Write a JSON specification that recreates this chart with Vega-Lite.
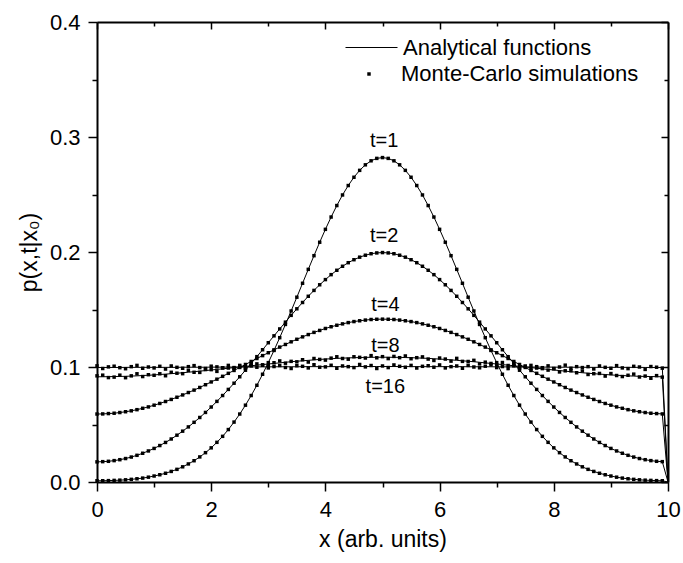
{
  "$schema": "https://vega.github.io/schema/vega-lite/v6.json",
  "width": 571,
  "height": 460,
  "autosize": "none",
  "padding": {"left": 97, "top": 22, "right": 15, "bottom": 81},
  "background": "white",
  "config": {
    "view": {"stroke": null},
    "font": "Liberation Sans",
    "axis": {"domainColor": "black", "domainWidth": 2, "tickColor": "black", "tickWidth": 1.5, "grid": false, "labelFont": "Liberation Sans", "labelFontSize": 22, "labelColor": "black", "titleFont": "Liberation Sans", "titleFontSize": 23, "titleFontWeight": "normal", "titleColor": "black", "labelOverlap": false, "labelFlush": false, "labelBound": false},
    "legend": {"labelFont": "Liberation Sans", "labelFontSize": 22, "labelColor": "black", "padding": 0, "offset": 0, "labelLimit": 500}
  },
  "datasets": {
    "d": [
      {"x":0,"a1":0.0011,"a2":0.0175,"a4":0.0591,"a8":0.0915,"a16":0.0996,"m8":0.0923,"m16":0.1010},
      {"x":0.1,"a1":0.0011,"a2":0.0177,"a4":0.0592,"a8":0.0915,"a16":0.0996,"m8":0.0929,"m16":0.0987},
      {"x":0.2,"a1":0.0012,"a2":0.0180,"a4":0.0595,"a8":0.0916,"a16":0.0996,"m8":0.0908,"m16":0.1001},
      {"x":0.3,"a1":0.0014,"a2":0.0186,"a4":0.0598,"a8":0.0917,"a16":0.0996,"m8":0.0912,"m16":0.1007},
      {"x":0.4,"a1":0.0016,"a2":0.0194,"a4":0.0604,"a8":0.0918,"a16":0.0996,"m8":0.0929,"m16":0.0994},
      {"x":0.5,"a1":0.0019,"a2":0.0204,"a4":0.0611,"a8":0.0919,"a16":0.0997,"m8":0.0907,"m16":0.0985},
      {"x":0.6,"a1":0.0023,"a2":0.0217,"a4":0.0619,"a8":0.0921,"a16":0.0997,"m8":0.0923,"m16":0.1003},
      {"x":0.7,"a1":0.0028,"a2":0.0232,"a4":0.0629,"a8":0.0923,"a16":0.0997,"m8":0.0941,"m16":0.1014},
      {"x":0.8,"a1":0.0034,"a2":0.0250,"a4":0.0641,"a8":0.0926,"a16":0.0997,"m8":0.0917,"m16":0.0989},
      {"x":0.9,"a1":0.0042,"a2":0.0270,"a4":0.0653,"a8":0.0928,"a16":0.0997,"m8":0.0933,"m16":0.1000},
      {"x":1.0,"a1":0.0052,"a2":0.0292,"a4":0.0668,"a8":0.0931,"a16":0.0997,"m8":0.0928,"m16":0.0992},
      {"x":1.1,"a1":0.0063,"a2":0.0317,"a4":0.0683,"a8":0.0935,"a16":0.0997,"m8":0.0941,"m16":0.1006},
      {"x":1.2,"a1":0.0076,"a2":0.0344,"a4":0.0700,"a8":0.0938,"a16":0.0997,"m8":0.0924,"m16":0.0982},
      {"x":1.3,"a1":0.0092,"a2":0.0374,"a4":0.0718,"a8":0.0942,"a16":0.0997,"m8":0.0954,"m16":0.1009},
      {"x":1.4,"a1":0.0110,"a2":0.0407,"a4":0.0737,"a8":0.0946,"a16":0.0997,"m8":0.0946,"m16":0.0997},
      {"x":1.5,"a1":0.0132,"a2":0.0442,"a4":0.0757,"a8":0.0950,"a16":0.0998,"m8":0.0942,"m16":0.0989},
      {"x":1.6,"a1":0.0157,"a2":0.0479,"a4":0.0778,"a8":0.0955,"a16":0.0998,"m8":0.0970,"m16":0.1003},
      {"x":1.7,"a1":0.0185,"a2":0.0519,"a4":0.0799,"a8":0.0959,"a16":0.0998,"m8":0.0954,"m16":0.1012},
      {"x":1.8,"a1":0.0218,"a2":0.0561,"a4":0.0822,"a8":0.0964,"a16":0.0998,"m8":0.0953,"m16":0.0995},
      {"x":1.9,"a1":0.0255,"a2":0.0605,"a4":0.0846,"a8":0.0969,"a16":0.0998,"m8":0.0978,"m16":0.0987},
      {"x":2.0,"a1":0.0297,"a2":0.0652,"a4":0.0870,"a8":0.0974,"a16":0.0999,"m8":0.0977,"m16":0.1007},
      {"x":2.1,"a1":0.0345,"a2":0.0701,"a4":0.0894,"a8":0.0979,"a16":0.0999,"m8":0.0962,"m16":0.1001},
      {"x":2.2,"a1":0.0397,"a2":0.0752,"a4":0.0919,"a8":0.0984,"a16":0.0999,"m8":0.0992,"m16":0.0993},
      {"x":2.3,"a1":0.0456,"a2":0.0805,"a4":0.0945,"a8":0.0989,"a16":0.0999,"m8":0.0991,"m16":0.1014},
      {"x":2.4,"a1":0.0521,"a2":0.0859,"a4":0.0970,"a8":0.0995,"a16":0.1000,"m8":0.0989,"m16":0.0995},
      {"x":2.5,"a1":0.0591,"a2":0.0915,"a4":0.0996,"a8":0.1000,"a16":0.1000,"m8":0.1014,"m16":0.1005},
      {"x":2.6,"a1":0.0668,"a2":0.0972,"a4":0.1022,"a8":0.1005,"a16":0.1000,"m8":0.0996,"m16":0.0988},
      {"x":2.7,"a1":0.0752,"a2":0.1031,"a4":0.1048,"a8":0.1011,"a16":0.1001,"m8":0.1016,"m16":0.1009},
      {"x":2.8,"a1":0.0841,"a2":0.1090,"a4":0.1074,"a8":0.1016,"a16":0.1001,"m8":0.1027,"m16":0.0998},
      {"x":2.9,"a1":0.0937,"a2":0.1150,"a4":0.1099,"a8":0.1021,"a16":0.1001,"m8":0.1019,"m16":0.1015},
      {"x":3.0,"a1":0.1038,"a2":0.1211,"a4":0.1124,"a8":0.1026,"a16":0.1001,"m8":0.1014,"m16":0.0992},
      {"x":3.1,"a1":0.1144,"a2":0.1271,"a4":0.1149,"a8":0.1031,"a16":0.1002,"m8":0.1037,"m16":0.1004},
      {"x":3.2,"a1":0.1255,"a2":0.1331,"a4":0.1173,"a8":0.1036,"a16":0.1002,"m8":0.1053,"m16":0.1013},
      {"x":3.3,"a1":0.1370,"a2":0.1390,"a4":0.1196,"a8":0.1041,"a16":0.1002,"m8":0.1033,"m16":0.0996},
      {"x":3.4,"a1":0.1487,"a2":0.1449,"a4":0.1219,"a8":0.1046,"a16":0.1002,"m8":0.1049,"m16":0.0987},
      {"x":3.5,"a1":0.1607,"a2":0.1506,"a4":0.1241,"a8":0.1050,"a16":0.1002,"m8":0.1045,"m16":0.1011},
      {"x":3.6,"a1":0.1728,"a2":0.1561,"a4":0.1262,"a8":0.1054,"a16":0.1003,"m8":0.1063,"m16":0.1006},
      {"x":3.7,"a1":0.1849,"a2":0.1615,"a4":0.1282,"a8":0.1058,"a16":0.1003,"m8":0.1043,"m16":0.0992},
      {"x":3.8,"a1":0.1968,"a2":0.1666,"a4":0.1301,"a8":0.1062,"a16":0.1003,"m8":0.1074,"m16":0.1020},
      {"x":3.9,"a1":0.2085,"a2":0.1715,"a4":0.1318,"a8":0.1066,"a16":0.1003,"m8":0.1066,"m16":0.0998},
      {"x":4.0,"a1":0.2197,"a2":0.1760,"a4":0.1335,"a8":0.1069,"a16":0.1003,"m8":0.1060,"m16":0.1001},
      {"x":4.1,"a1":0.2304,"a2":0.1803,"a4":0.1350,"a8":0.1072,"a16":0.1003,"m8":0.1077,"m16":0.1015},
      {"x":4.2,"a1":0.2404,"a2":0.1841,"a4":0.1363,"a8":0.1075,"a16":0.1003,"m8":0.1089,"m16":0.0989},
      {"x":4.3,"a1":0.2496,"a2":0.1876,"a4":0.1375,"a8":0.1077,"a16":0.1003,"m8":0.1074,"m16":0.1009},
      {"x":4.4,"a1":0.2578,"a2":0.1907,"a4":0.1386,"a8":0.1079,"a16":0.1003,"m8":0.1068,"m16":0.1003},
      {"x":4.5,"a1":0.2650,"a2":0.1933,"a4":0.1395,"a8":0.1081,"a16":0.1003,"m8":0.1089,"m16":0.0995},
      {"x":4.6,"a1":0.2710,"a2":0.1955,"a4":0.1402,"a8":0.1082,"a16":0.1004,"m8":0.1084,"m16":0.1022},
      {"x":4.7,"a1":0.2758,"a2":0.1972,"a4":0.1408,"a8":0.1084,"a16":0.1004,"m8":0.1078,"m16":0.1001},
      {"x":4.8,"a1":0.2793,"a2":0.1985,"a4":0.1413,"a8":0.1084,"a16":0.1004,"m8":0.1099,"m16":0.1013},
      {"x":4.9,"a1":0.2814,"a2":0.1992,"a4":0.1415,"a8":0.1085,"a16":0.1004,"m8":0.1080,"m16":0.0987},
      {"x":5.0,"a1":0.2821,"a2":0.1995,"a4":0.1416,"a8":0.1085,"a16":0.1004,"m8":0.1090,"m16":0.1009},
      {"x":5.1,"a1":0.2814,"a2":0.1992,"a4":0.1415,"a8":0.1085,"a16":0.1004,"m8":0.1073,"m16":0.0995},
      {"x":5.2,"a1":0.2793,"a2":0.1985,"a4":0.1413,"a8":0.1084,"a16":0.1004,"m8":0.1092,"m16":0.1018},
      {"x":5.3,"a1":0.2758,"a2":0.1972,"a4":0.1408,"a8":0.1084,"a16":0.1004,"m8":0.1081,"m16":0.1006},
      {"x":5.4,"a1":0.2710,"a2":0.1955,"a4":0.1402,"a8":0.1082,"a16":0.1004,"m8":0.1096,"m16":0.0998},
      {"x":5.5,"a1":0.2650,"a2":0.1933,"a4":0.1395,"a8":0.1081,"a16":0.1003,"m8":0.1072,"m16":0.1014},
      {"x":5.6,"a1":0.2578,"a2":0.1907,"a4":0.1386,"a8":0.1079,"a16":0.1003,"m8":0.1081,"m16":0.0991},
      {"x":5.7,"a1":0.2496,"a2":0.1876,"a4":0.1375,"a8":0.1077,"a16":0.1003,"m8":0.1088,"m16":0.1006},
      {"x":5.8,"a1":0.2404,"a2":0.1841,"a4":0.1363,"a8":0.1075,"a16":0.1003,"m8":0.1069,"m16":0.1011},
      {"x":5.9,"a1":0.2304,"a2":0.1803,"a4":0.1350,"a8":0.1072,"a16":0.1003,"m8":0.1057,"m16":0.0998},
      {"x":6.0,"a1":0.2197,"a2":0.1760,"a4":0.1335,"a8":0.1069,"a16":0.1003,"m8":0.1078,"m16":0.1018},
      {"x":6.1,"a1":0.2085,"a2":0.1715,"a4":0.1318,"a8":0.1066,"a16":0.1003,"m8":0.1069,"m16":0.0992},
      {"x":6.2,"a1":0.1968,"a2":0.1666,"a4":0.1301,"a8":0.1062,"a16":0.1003,"m8":0.1051,"m16":0.1003},
      {"x":6.3,"a1":0.1849,"a2":0.1615,"a4":0.1282,"a8":0.1058,"a16":0.1003,"m8":0.1075,"m16":0.1009},
      {"x":6.4,"a1":0.1728,"a2":0.1561,"a4":0.1262,"a8":0.1054,"a16":0.1003,"m8":0.1049,"m16":0.0989},
      {"x":6.5,"a1":0.1607,"a2":0.1506,"a4":0.1241,"a8":0.1050,"a16":0.1002,"m8":0.1048,"m16":0.1014},
      {"x":6.6,"a1":0.1487,"a2":0.1449,"a4":0.1219,"a8":0.1046,"a16":0.1002,"m8":0.1058,"m16":0.1000},
      {"x":6.7,"a1":0.1370,"a2":0.1390,"a4":0.1196,"a8":0.1041,"a16":0.1002,"m8":0.1027,"m16":0.0993},
      {"x":6.8,"a1":0.1255,"a2":0.1331,"a4":0.1173,"a8":0.1036,"a16":0.1002,"m8":0.1042,"m16":0.1007},
      {"x":6.9,"a1":0.1144,"a2":0.1271,"a4":0.1149,"a8":0.1031,"a16":0.1002,"m8":0.1031,"m16":0.1019},
      {"x":7.0,"a1":0.1038,"a2":0.1211,"a4":0.1124,"a8":0.1026,"a16":0.1001,"m8":0.1018,"m16":0.0995},
      {"x":7.1,"a1":0.0937,"a2":0.1150,"a4":0.1099,"a8":0.1021,"a16":0.1001,"m8":0.1039,"m16":0.1004},
      {"x":7.2,"a1":0.0841,"a2":0.1090,"a4":0.1074,"a8":0.1016,"a16":0.1001,"m8":0.1013,"m16":0.0986},
      {"x":7.3,"a1":0.0752,"a2":0.1031,"a4":0.1048,"a8":0.1011,"a16":0.1001,"m8":0.1020,"m16":0.1010},
      {"x":7.4,"a1":0.0668,"a2":0.0972,"a4":0.1022,"a8":0.1005,"a16":0.1000,"m8":0.0988,"m16":0.0997},
      {"x":7.5,"a1":0.0591,"a2":0.0915,"a4":0.0996,"a8":0.1000,"a16":0.1000,"m8":0.1005,"m16":0.1008},
      {"x":7.6,"a1":0.0521,"a2":0.0859,"a4":0.0970,"a8":0.0995,"a16":0.1000,"m8":0.0986,"m16":0.1014},
      {"x":7.7,"a1":0.0456,"a2":0.0805,"a4":0.0945,"a8":0.0989,"a16":0.0999,"m8":0.1003,"m16":0.0991},
      {"x":7.8,"a1":0.0397,"a2":0.0752,"a4":0.0919,"a8":0.0984,"a16":0.0999,"m8":0.0986,"m16":0.0994},
      {"x":7.9,"a1":0.0345,"a2":0.0701,"a4":0.0894,"a8":0.0979,"a16":0.0999,"m8":0.0973,"m16":0.1010},
      {"x":8.0,"a1":0.0297,"a2":0.0652,"a4":0.0870,"a8":0.0974,"a16":0.0999,"m8":0.0985,"m16":0.0987},
      {"x":8.1,"a1":0.0255,"a2":0.0605,"a4":0.0846,"a8":0.0969,"a16":0.0998,"m8":0.0957,"m16":0.1000},
      {"x":8.2,"a1":0.0218,"a2":0.0561,"a4":0.0822,"a8":0.0964,"a16":0.0998,"m8":0.0967,"m16":0.1016},
      {"x":8.3,"a1":0.0185,"a2":0.0519,"a4":0.0799,"a8":0.0959,"a16":0.0998,"m8":0.0967,"m16":0.0989},
      {"x":8.4,"a1":0.0157,"a2":0.0479,"a4":0.0778,"a8":0.0955,"a16":0.0998,"m8":0.0950,"m16":0.1003},
      {"x":8.5,"a1":0.0132,"a2":0.0442,"a4":0.0757,"a8":0.0950,"a16":0.0998,"m8":0.0965,"m16":0.0995},
      {"x":8.6,"a1":0.0110,"a2":0.0407,"a4":0.0737,"a8":0.0946,"a16":0.0997,"m8":0.0935,"m16":0.1003},
      {"x":8.7,"a1":0.0092,"a2":0.0374,"a4":0.0718,"a8":0.0942,"a16":0.0997,"m8":0.0942,"m16":0.0983},
      {"x":8.8,"a1":0.0076,"a2":0.0344,"a4":0.0700,"a8":0.0938,"a16":0.0997,"m8":0.0944,"m16":0.1009},
      {"x":8.9,"a1":0.0063,"a2":0.0317,"a4":0.0683,"a8":0.0935,"a16":0.0997,"m8":0.0921,"m16":0.0997},
      {"x":9.0,"a1":0.0052,"a2":0.0292,"a4":0.0668,"a8":0.0931,"a16":0.0997,"m8":0.0943,"m16":0.0989},
      {"x":9.1,"a1":0.0042,"a2":0.0270,"a4":0.0653,"a8":0.0928,"a16":0.0997,"m8":0.0926,"m16":0.1012},
      {"x":9.2,"a1":0.0034,"a2":0.0250,"a4":0.0641,"a8":0.0926,"a16":0.0997,"m8":0.0917,"m16":0.0992},
      {"x":9.3,"a1":0.0028,"a2":0.0232,"a4":0.0629,"a8":0.0923,"a16":0.0997,"m8":0.0928,"m16":0.0986},
      {"x":9.4,"a1":0.0023,"a2":0.0217,"a4":0.0619,"a8":0.0921,"a16":0.0997,"m8":0.0938,"m16":0.1006},
      {"x":9.5,"a1":0.0019,"a2":0.0204,"a4":0.0611,"a8":0.0919,"a16":0.0997,"m8":0.0913,"m16":0.1000},
      {"x":9.6,"a1":0.0016,"a2":0.0194,"a4":0.0604,"a8":0.0918,"a16":0.0996,"m8":0.0921,"m16":0.0979},
      {"x":9.7,"a1":0.0014,"a2":0.0186,"a4":0.0598,"a8":0.0917,"a16":0.0996,"m8":0.0902,"m16":0.1004},
      {"x":9.8,"a1":0.0012,"a2":0.0180,"a4":0.0595,"a8":0.0916,"a16":0.0996,"m8":0.0925,"m16":0.0998},
      {"x":9.9,"a1":0.0011,"a2":0.0177,"a4":0.0592,"a8":0.0915,"a16":0.0996,"m8":0.0912,"m16":0.0990},
      {"x":10,"a1":0,"a2":0,"a4":0,"a8":0,"a16":0}
    ],
    "lab": [
      {"x": 5.03, "y": 0.2965, "label": "t=1"},
      {"x": 5.03, "y": 0.214, "label": "t=2"},
      {"x": 5.05, "y": 0.154, "label": "t=4"},
      {"x": 5.05, "y": 0.1185, "label": "t=8"},
      {"x": 5.05, "y": 0.0826, "label": "t=16"}
    ]
  },
  "layer": [
    {
      "data": {"name": "d"},
      "transform": [{"fold": ["a1", "a2", "a4", "a8", "a16"], "as": ["curve", "p"]}],
      "mark": {"type": "line", "strokeWidth": 1},
      "encoding": {
        "x": {"field": "x", "type": "quantitative", "scale": {"domain": [0, 10], "nice": false, "zero": false},
          "axis": {"orient": "bottom", "values": [0,1,2,3,4,5,6,7,8,9,10], "labelExpr": "datum.value % 2 === 0 ? datum.label : ''",
            "tickSize": {"condition": {"test": "datum.value % 2 === 0", "value": 9}, "value": 5},
            "labelPadding": 8, "title": "x (arb. units)", "titlePadding": 8}},
        "y": {"field": "p", "type": "quantitative", "scale": {"domain": [0, 0.4], "nice": false, "zero": false},
          "axis": {"orient": "left", "values": [0,0.05,0.1,0.15,0.2,0.25,0.3,0.35,0.4],
            "labelExpr": "round(datum.value*20) % 2 === 0 ? format(datum.value, '.1f') : ''",
            "tickSize": {"condition": {"test": "round(datum.value*20) % 2 === 0", "value": 9}, "value": 5},
            "labelPadding": 8, "title": "p(x,t|x₀)", "titlePadding": 8}},
        "detail": {"field": "curve"},
        "stroke": {"datum": "Analytical functions", "type": "nominal", "scale": {"range": ["black"]},
          "legend": {"orient": "none", "legendX": 248, "legendY": -1, "symbolType": "stroke", "symbolSize": 2704, "symbolStrokeWidth": 1, "symbolStrokeColor": "black", "labelOffset": 5, "title": null}}
      }
    },
    {
      "data": {"name": "d"},
      "transform": [{"filter": "datum.x < 10"}, {"fold": ["a1", "a2", "a4", "m8", "m16"], "as": ["curve", "p"]}],
      "mark": {"type": "point", "filled": true, "color": "black", "size": 12, "opacity": 1},
      "encoding": {
        "x": {"field": "x", "type": "quantitative", "scale": {"domain": [0, 10], "nice": false, "zero": false},
          "axis": {"orient": "top", "values": [0,1,2,3,4,5,6,7,8,9,10], "labels": false,
            "tickSize": {"condition": {"test": "datum.value % 2 === 0", "value": -7}, "value": -4}, "title": null}},
        "y": {"field": "p", "type": "quantitative", "scale": {"domain": [0, 0.4], "nice": false, "zero": false},
          "axis": {"orient": "right", "values": [0,0.05,0.1,0.15,0.2,0.25,0.3,0.35,0.4], "labels": false,
            "tickSize": {"condition": {"test": "round(datum.value*20) % 2 === 0", "value": -7}, "value": -4}, "title": null}},
        "shape": {"datum": "Monte-Carlo simulations", "type": "nominal", "scale": {"range": ["square"]},
          "legend": {"orient": "none", "legendX": 261, "legendY": 41, "symbolSize": 12, "symbolFillColor": "black", "symbolStrokeColor": "black", "symbolStrokeWidth": 0, "labelOffset": 21, "title": null}}
      }
    },
    {
      "data": {"name": "lab"},
      "mark": {"type": "text", "fontSize": 20, "font": "Liberation Sans", "color": "black", "align": "center", "baseline": "middle"},
      "encoding": {
        "x": {"field": "x", "type": "quantitative", "scale": {"domain": [0, 10], "nice": false, "zero": false}, "axis": null},
        "y": {"field": "y", "type": "quantitative", "scale": {"domain": [0, 0.4], "nice": false, "zero": false}, "axis": null},
        "text": {"field": "label"}
      }
    }
  ],
  "resolve": {"axis": {"x": "independent", "y": "independent"}}
}
